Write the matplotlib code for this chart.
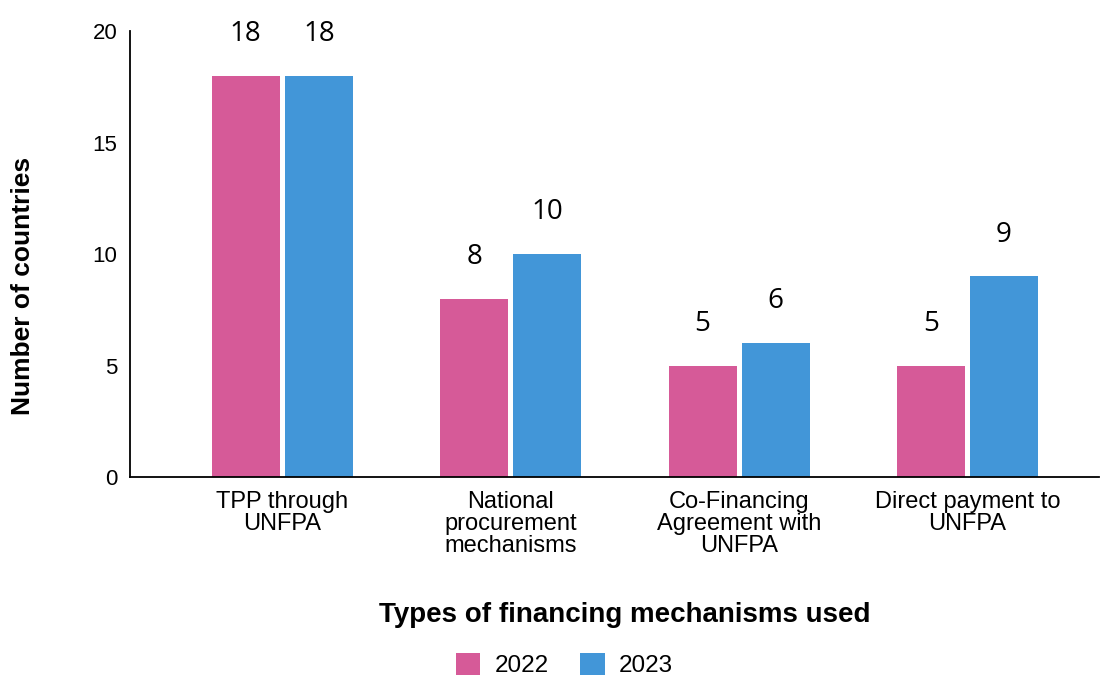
import numpy as np
import matplotlib.pyplot as plt

plt.rcParams['font.family'] = ['Liberation Sans', 'DejaVu Sans']

categories = ['TPP through\nUNFPA', 'National\nprocurement\nmechanisms',
              'Co-Financing\nAgreement with\nUNFPA', 'Direct payment to\nUNFPA']
vals_2022 = [18, 8, 5, 5]
vals_2023 = [18, 10, 6, 9]
years = ['2022', '2023']

pink = '#D65A98'
blue = '#4296D8'

fig = plt.figure(figsize=(11.08, 6.75), dpi=100)
ax = fig.add_axes([0.1173, 0.2933, 0.875, 0.6607])

x = np.arange(len(categories))
w = 0.298
off = 0.16
b1 = ax.bar(x - off, vals_2022, w, color=pink, label=years[0])
b2 = ax.bar(x + off, vals_2023, w, color=blue, label=years[1])

for bars in (b1, b2):
    for r in bars:
        ax.annotate(f'{int(r.get_height())}', (r.get_x() + r.get_width() / 2, r.get_height()),
                    xytext=(0, 20), textcoords='offset points', ha='center', va='bottom',
                    fontsize=20, family=['Open Sans', 'DejaVu Sans'])

ax.set_xlim(-0.667, 3.578)
ax.set_ylim(0, 20)
ax.set_yticks([0, 5, 10, 15, 20])
ax.set_xticks(x)
ax.set_xticklabels(categories, fontsize=17, linespacing=1.0)
ax.tick_params(axis='y', labelsize=16, length=0, pad=9)
ax.tick_params(axis='x', length=0, pad=10)
for s in ['top', 'right']:
    ax.spines[s].set_visible(False)
ax.spines['left'].set_linewidth(1.3)
ax.spines['bottom'].set_linewidth(1.3)

fig.text(23 / 1108, 1 - 286 / 675, 'Number of countries', rotation=90, ha='center', va='center',
         fontsize=19, fontweight='bold')
fig.text(0.564, 1 - 615 / 675, 'Types of financing mechanisms used', ha='center', va='center',
         fontsize=20, fontweight='bold')

fig.legend(handles=[b1, b2], labels=years, loc='center', bbox_to_anchor=(564.5 / 1108, 1 - 665 / 675),
           ncol=2, frameon=False, fontsize=17.5, handlelength=1.0, handleheight=1.0,
           columnspacing=1.3, handletextpad=0.6, borderpad=0)

fig.savefig('out.png', dpi=100)
